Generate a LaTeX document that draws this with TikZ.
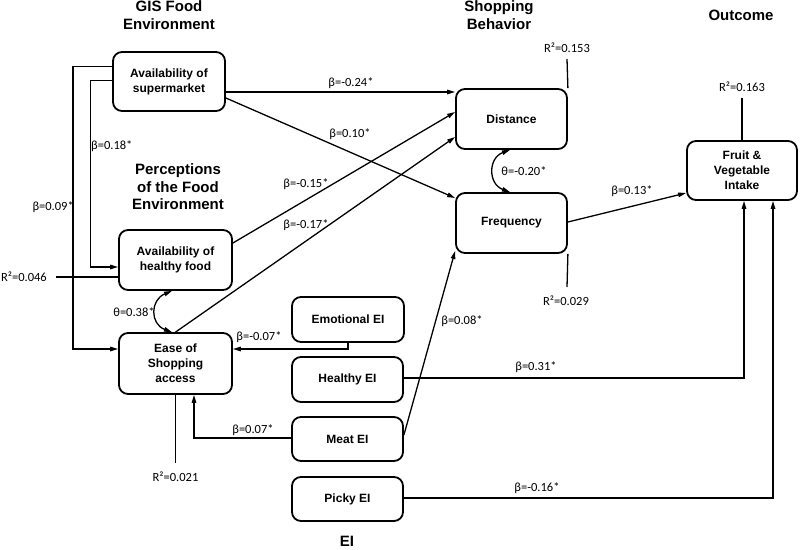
\documentclass[tikz,border=0pt]{standalone}
\usepackage{fontspec}
\setmainfont{Liberation Sans}
\newfontfamily\labfont{Carlito}
\usetikzlibrary{arrows.meta}
\begin{document}
\begin{tikzpicture}[x=1pt,y=-1pt,
 box/.style={draw, line width=1.8pt, rounded corners=9pt, align=center, font=\fontsize{12}{15}\selectfont\bfseries, inner sep=0pt},
 head/.style={align=center, font=\fontsize{15}{18}\selectfont\bfseries, inner sep=0pt},
 lab/.style={font=\labfont\fontsize{12.5}{14}\selectfont, inner sep=0pt},
 conn/.style={line width=1.3pt},
 arr/.style={conn, -{Triangle[length=8pt,width=4.5pt]}},
 darr/.style={conn, {Triangle[length=8pt,width=4.5pt]}-{Triangle[length=8pt,width=4.5pt]}}
]
\useasboundingbox (0,0) rectangle (800,549);

% headings
\node[head] (h1) at (169,15) {GIS Food\\Environment};
\node[head] (h2) at (499,15) {Shopping\\Behavior};
\node[head] (h3) at (741,15) {Outcome};
\node[head, font=\fontsize{15}{17.5}\selectfont\bfseries] (h4) at (178,187) {Perceptions\\of the Food\\Environment};
\node[head] (h5) at (347,541.5) {EI};

% boxes
\node[box, minimum width=112pt, minimum height=59pt] (sup) at (169,81.5) {Availability of\\supermarket};
\node[box, minimum width=113pt, minimum height=60pt] (hf) at (175.5,260) {Availability of\\healthy food};
\node[box, minimum width=113pt, minimum height=61pt] (ease) at (175.5,363.5) {Ease of\\Shopping\\access};
\node[box, minimum width=111pt, minimum height=60pt] (dist) at (511.5,119) {Distance};
\node[box, minimum width=111pt, minimum height=60pt] (freq) at (511.5,223) {Frequency};
\node[box, minimum width=110pt, minimum height=59pt] (fv) at (742,170.5) {Fruit \&\\Vegetable\\Intake};
\node[box, minimum width=112pt, minimum height=45pt] (emo) at (348,319.5) {Emotional EI};
\node[box, minimum width=111pt, minimum height=45pt] (hei) at (347.5,379.5) {Healthy EI};
\node[box, minimum width=111pt, minimum height=44pt] (meat) at (347.5,439) {Meat EI};
\node[box, minimum width=111pt, minimum height=44pt] (picky) at (347.5,499) {Picky EI};

% connectors
\draw[arr] (sup.east |- 0,92) -- (dist.west |- 0,92);
\draw[arr] (sup.east |- 0,98) -- (freq.west |- 0,198);
\draw[arr] (hf.east |- 0,243) -- (dist.west |- 0,112);
\draw[arr] (ease.north) -- (dist.west |- 0,137);
\draw[arr] (sup.west |- 0,80.5) -| (90.5,267) -- (hf.west |- 0,267);
\draw[arr] (sup.west |- 0,66.5) -| (73,349) -- (ease.west |- 0,349);
\draw[conn] (56,277) -- (hf.west |- 0,277);
\draw[darr] (hf.south -| 172,0) .. controls (150,300) and (150,324) .. (ease.north -| 172,0);
\draw[arr] (emo.south) |- (ease.east |- 0,349);
\draw[arr] (meat.west |- 0,438) -| (ease.south -| 194,0);
\draw[arr] (meat.east |- 0,435) -- (freq.west |- 0,251);
\draw[arr] (hei.east |- 0,378) -| (fv.south -| 744,0);
\draw[arr] (picky.east |- 0,498) -| (fv.south -| 773,0);
\draw[arr] (freq.east |- 0,222) -- (fv.west |- 0,193);
\draw[darr] (dist.south -| 510,0) .. controls (488,158) and (488,184) .. (freq.north -| 510,0);
\draw[conn] (dist.north east) -- (567,59);
\draw[conn] (freq.south east) -- (567,287);
\draw[conn] (fv.north -| 742,0) -- (742,98);
\draw[conn] (ease.south) -- (175.5,463);

% labels
\node[lab] (l1) at (351,83) {β=-0.24*};
\node[lab] (l2) at (350,134) {β=0.10*};
\node[lab] (l3) at (306,184) {β=-0.15*};
\node[lab] (l4) at (306,225) {β=-0.17*};
\node[lab, anchor=west] (l5) at (91,146) {β=0.18*};
\node[lab, anchor=east] (l6) at (74,207) {β=0.09*};
\node[lab, anchor=east] (l7) at (47,277) {R²=0.046};
\node[lab] (l8) at (134,312) {θ=0.38*};
\node[lab] (l9) at (259,337) {β=-0.07*};
\node[lab] (l10) at (253,430) {β=0.07*};
\node[lab] (l11) at (175.5,477) {R²=0.021};
\node[lab] (l12) at (462,321) {β=0.08*};
\node[lab] (l13) at (536,367) {β=0.31*};
\node[lab] (l14) at (537,488) {β=-0.16*};
\node[lab] (l15) at (632,191) {β=0.13*};
\node[lab] (l16) at (524,171) {θ=-0.20*};
\node[lab] (l17) at (567,48) {R²=0.153};
\node[lab] (l18) at (566,301) {R²=0.029};
\node[lab] (l19) at (742,87) {R²=0.163};
\end{tikzpicture}
\end{document}
